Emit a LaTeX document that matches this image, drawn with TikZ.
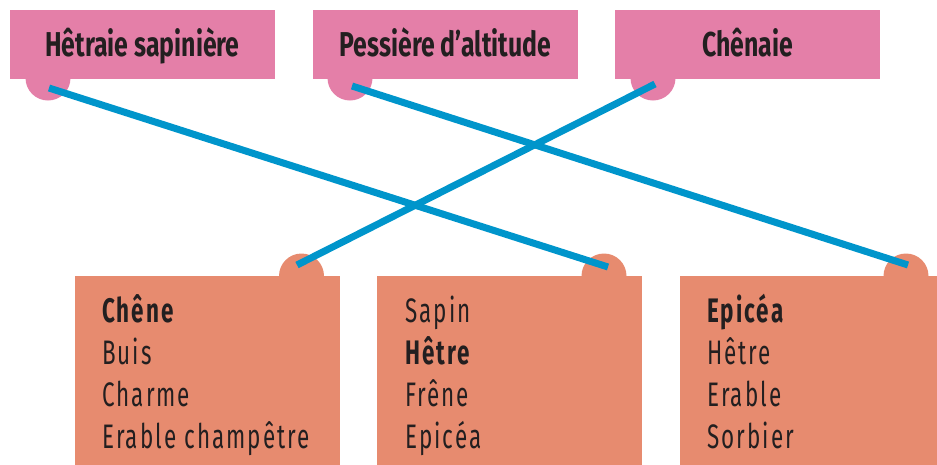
\documentclass[tikz,border=0pt]{standalone}
\usepackage{fontspec}
\setmainfont{Fira Sans}[FakeStretch=0.72]
\newfontfamily\essfont{Fira Sans}[FakeStretch=0.66,LetterSpace=6]
\definecolor{foret}{HTML}{E47FA8}
\definecolor{essence}{HTML}{E78B6F}
\definecolor{lien}{HTML}{0095CB}
\definecolor{encre}{HTML}{231F20}
\tikzset{
  milieu/.style={fill=foret,minimum width=265pt,minimum height=69pt,inner sep=0pt,
    text=encre,text height=24pt,text depth=0pt,font=\fontsize{34.5}{40}\selectfont\bfseries},
  pastille/.style={circle,fill=#1,minimum size=45pt,inner sep=0pt},
  liste/.style={fill=essence,minimum width=265pt,minimum height=200pt,inner sep=0pt,anchor=north west},
  arbre/.style={anchor=base west,inner sep=0pt,text=encre,font=\essfont\fontsize{34}{40}\selectfont},
  lien/.style={draw=lien,line width=7pt}
}
\begin{document}
\begin{tikzpicture}[x=1pt,y=-1pt]
        \useasboundingbox (0,0) rectangle (937,464);
        % milieux forestiers
        \node[pastille=foret](d1)at(48,78){};
        \node[pastille=foret](d2)at(350,78){};
        \node[pastille=foret](d3)at(653,78){};
        \node[milieu](m1)at(142.5,44.5){Hêtraie sapinière};
        \node[milieu](m2)at(445.5,44.5){Pessière d’altitude};
        \node[milieu](m3)at(747.5,44.5){Chênaie};
        % essences
        \node[pastille=essence](p1)at(301.5,276){};
        \node[pastille=essence](p2)at(604,276){};
        \node[pastille=essence](p3)at(906,276){};
        \node[liste](l1)at(75,276){};
        \node[liste](l2)at(377,276){};
        \node[liste](l3)at(680,276){};
        \foreach \mot [count=\i] in {{\bfseries Chêne},Buis,Charme,Erable champêtre}
            \node[arbre](a1-\i)at(102,{322+(\i-1)*42.3}){\mot};
        \foreach \mot [count=\i] in {Sapin,{\bfseries Hêtre},Frêne,Epicéa}
            \node[arbre](a2-\i)at(405,{322+(\i-1)*42.3}){\mot};
        \foreach \mot [count=\i] in {{\bfseries Epicéa},Hêtre,Erable,Sorbier}
            \node[arbre](a3-\i)at(707,{322+(\i-1)*42.3}){\mot};
        % liaisons
        \coordinate(h1)at(49,88);
        \coordinate(h2)at(352,86);
        \coordinate(h3)at(655,84);
        \coordinate(b1)at(297,265);
        \coordinate(b2)at(608,267);
        \coordinate(b3)at(908,265);
        \draw[lien](h1)--(b2);
        \draw[lien](h2)--(b3);
        \draw[lien](h3)--(b1);
    \end{tikzpicture}
\end{document}
